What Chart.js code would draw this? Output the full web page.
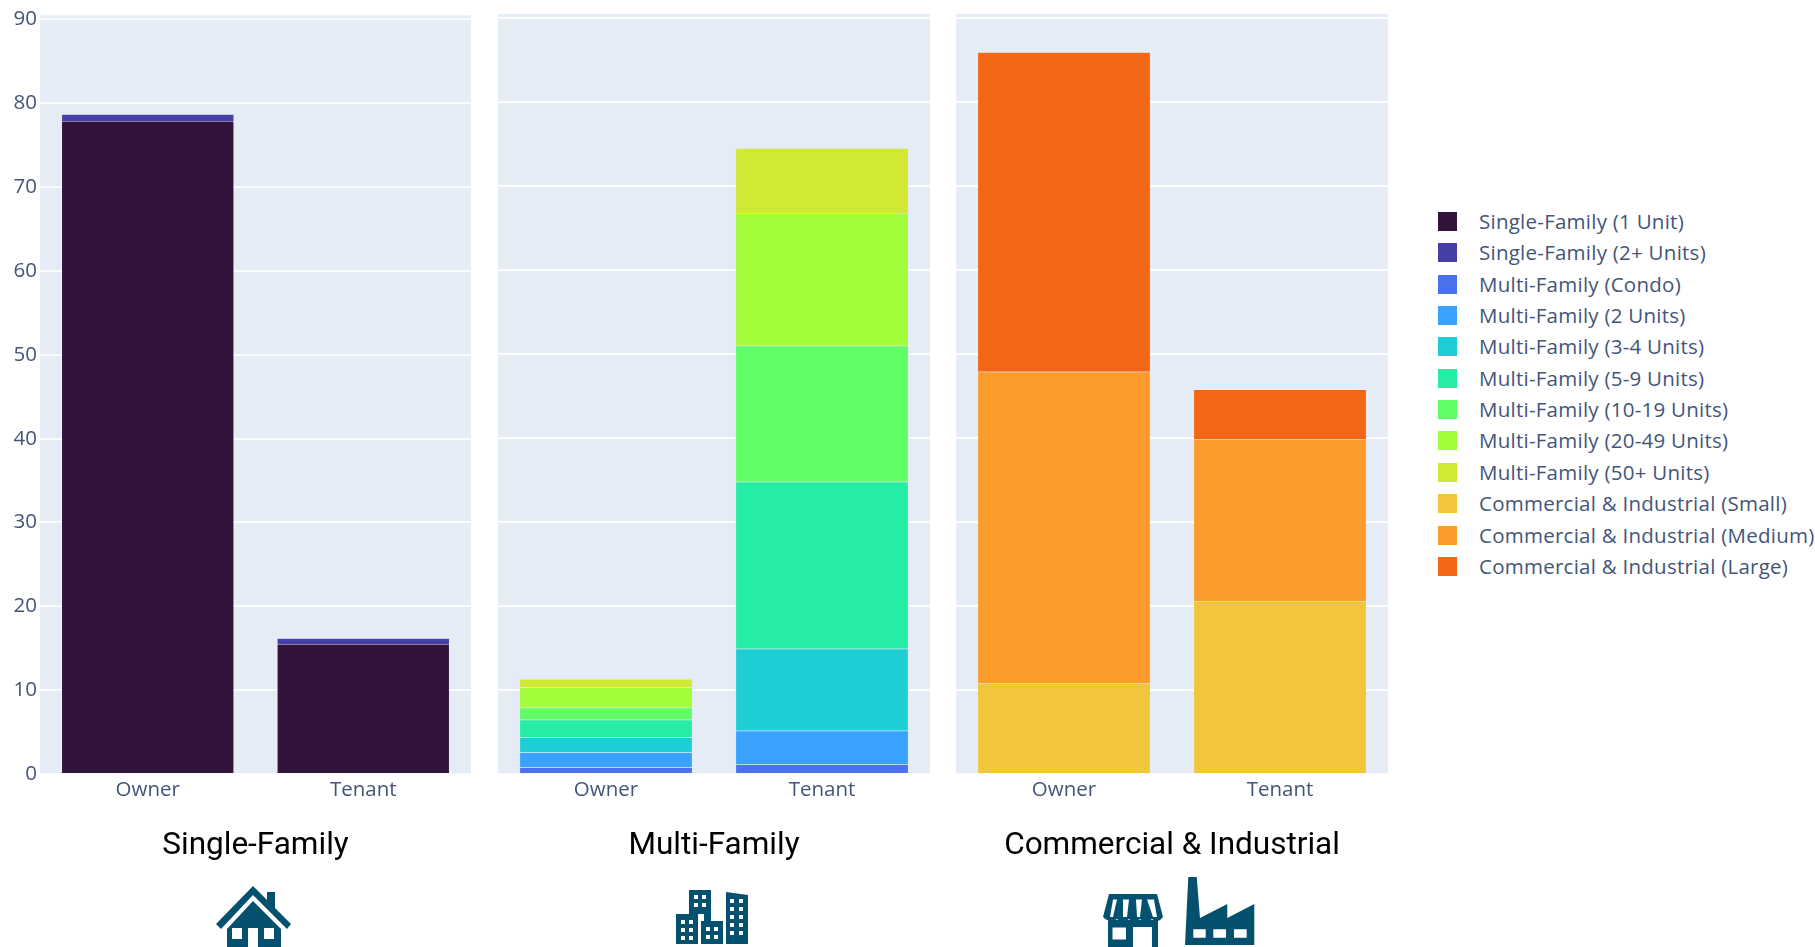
<!DOCTYPE html>
<html>
<head>
<meta charset="utf-8">
<title>Building types by owner and tenant</title>
<script src="https://cdn.jsdelivr.net/npm/chart.js@4"></script>
<style>
  html, body { margin: 0; padding: 0; background: #fff; width: 1815px; height: 947px; overflow: hidden; }
  canvas { position: absolute; top: 0; }
  #legend { position: absolute; left: 1438px; top: 206px; font-family: "Open Sans", sans-serif; font-size: 20.5px; letter-spacing: 0.25px; color: #43557a; }
  .row { position: absolute; left: 0; height: 31px; line-height: 31px; white-space: nowrap; }
  .swatch { position: absolute; left: 0; top: 6px; width: 19px; height: 19px; }
  .label { position: absolute; left: 41px; top: 0; }
  svg { position: absolute; fill: #04506f; }
</style>
</head>
<body>
<canvas id="singleChart" width="471" height="880" style="left:0"></canvas>
<canvas id="multiChart" width="432" height="880" style="left:498px"></canvas>
<canvas id="commercialChart" width="432" height="880" style="left:956px"></canvas>
<div id="legend"></div>

<!-- house -->
<svg style="left:216px;top:886px" width="76" height="61" viewBox="0 0 76 61">
  <path d="M37 0 L75 38 L71 43 L37 9 L5 43 L0 38 Z"/>
  <path d="M51 6 H59 V24 L51 16 Z"/>
  <path fill-rule="evenodd" d="M37 15 L65 43 V61 H11 V43 Z M16 42 V53 H26 V42 Z M48 42 V53 H58 V42 Z M32 42 V61 H42 V42 Z"/>
</svg>
<!-- buildings -->
<svg style="left:676px;top:890px" width="73" height="55" viewBox="0 0 73 55">
  <path fill-rule="evenodd" d="M13 0 H35 V34 H28 V24 H13 Z M18 5 V9 H22 V5 Z M26 5 V9 H30 V5 Z M18 13 V17 H22 V13 Z M26 13 V17 H30 V13 Z"/>
  <path fill-rule="evenodd" d="M0 24 H22 V54 H0 Z M5 30 V34 H9 V30 Z M13 30 V34 H17 V30 Z M5 38 V42 H9 V38 Z M13 38 V42 H17 V38 Z M5 46 V50 H9 V46 Z M13 46 V50 H17 V46 Z"/>
  <path fill-rule="evenodd" d="M25 31 H47 V54 H25 Z M30 37 V41 H34 V37 Z M38 37 V41 H42 V37 Z M30 45 V49 H34 V45 Z M38 45 V49 H42 V45 Z"/>
  <path fill-rule="evenodd" d="M50 2 L72 5 V54 H50 Z M54 9 V13 H58 V9 Z M63 9 V13 H67 V9 Z M54 17 V21 H58 V17 Z M63 17 V21 H67 V17 Z M54 25 V29 H58 V25 Z M63 25 V29 H67 V25 Z M54 33 V37 H58 V33 Z M63 33 V37 H67 V33 Z M54 41 V45 H58 V41 Z M63 41 V45 H67 V41 Z"/>
</svg>
<!-- store -->
<svg style="left:1102px;top:894px" width="62" height="53" viewBox="0 0 62 53">
  <path fill-rule="evenodd" d="M7 0 H55 L61 23 Q56 30 50 25 Q44 30 38 25 Q32 30 27 25 Q21 30 15 25 Q8 30 1 23 Z M11 5.5 H15 L11 23 H8 Z M21 5.5 H27 L25 23 H21 Z M34 5.5 H40 L38 23 H35 Z M45 5.5 H52 L55 23 H51 Z"/>
  <path fill-rule="evenodd" d="M6 26 H56 V53 H50 V33 H31 V53 H6 Z M10.5 33.5 V45.5 H24 V33.5 Z"/>
</svg>
<!-- factory -->
<svg style="left:1185px;top:877px" width="71" height="69" viewBox="0 0 71 69">
  <path fill-rule="evenodd" d="M3.3 0 H11.7 L15 41 L42.3 27 V41 L69.3 27 V68 H0 Z M8.3 52.3 V60.7 H20.7 V52.3 Z M28.3 52.3 V60.7 H41 V52.3 Z M49 52.3 V60.7 H61.7 V52.3 Z"/>
</svg>

<script>
const categories = ['Owner', 'Tenant'];
const yTicks = [0, 10, 20, 30, 40, 50, 60, 70, 80, 90];

// [Owner, Tenant]
const sf1Unit = [77.9, 15.5];
const sf2Units = [0.8, 0.7];

const mfCondo = [0.8, 1.15];
const mf2Units = [1.75, 4.0];
const mf3to4 = [1.8, 9.75];
const mf5to9 = [2.1, 19.9];
const mf10to19 = [1.45, 16.2];
const mf20to49 = [2.4, 15.8];
const mf50Plus = [1.0, 7.7];

const ciSmall = [10.85, 20.6];
const ciMedium = [37.05, 19.3];
const ciLarge = [38.05, 5.9];

const singleSeries = [
  { label: 'Single-Family (1 Unit)', data: sf1Unit, color: '#32133b' },
  { label: 'Single-Family (2+ Units)', data: sf2Units, color: '#4440a8' }
];
const multiSeries = [
  { label: 'Multi-Family (Condo)', data: mfCondo, color: '#4a72ee' },
  { label: 'Multi-Family (2 Units)', data: mf2Units, color: '#38a2fd' },
  { label: 'Multi-Family (3-4 Units)', data: mf3to4, color: '#1dcfd5' },
  { label: 'Multi-Family (5-9 Units)', data: mf5to9, color: '#25eda3' },
  { label: 'Multi-Family (10-19 Units)', data: mf10to19, color: '#61fd67' },
  { label: 'Multi-Family (20-49 Units)', data: mf20to49, color: '#a4fd3b' },
  { label: 'Multi-Family (50+ Units)', data: mf50Plus, color: '#d2e934' }
];
const commercialSeries = [
  { label: 'Commercial & Industrial (Small)', data: ciSmall, color: '#f2c63a' },
  { label: 'Commercial & Industrial (Medium)', data: ciMedium, color: '#fe9b2d' },
  { label: 'Commercial & Industrial (Large)', data: ciLarge, color: '#f36615' }
];

const tickColor = '#43557a';
const tickFont = { family: '"Open Sans", sans-serif', size: 20.5 };

// plotly-style panel background behind the grid
const panelBg = {
  id: 'panelBg',
  beforeDraw(chart) {
    const a = chart.chartArea;
    chart.ctx.fillStyle = '#e5ecf6';
    chart.ctx.fillRect(a.left, a.top, a.right - a.left, a.bottom - a.top);
  }
};

function makeChart(id, series, title, showY) {
  return new Chart(document.getElementById(id), {
    type: 'bar',
    plugins: [panelBg],
    data: {
      labels: categories,
      datasets: series.map(s => ({
        label: s.label,
        data: s.data,
        backgroundColor: s.color,
        borderColor: 'rgba(229,236,246,0.25)',
        borderWidth: 0.5,
        categoryPercentage: 1,
        barPercentage: 0.8
      }))
    },
    options: {
      responsive: false,
      animation: false,
      layout: { padding: { top: 14 } },
      plugins: {
        legend: { display: false },
        tooltip: { enabled: false },
        title: {
          display: true,
          text: title,
          position: 'bottom',
          fullSize: false,
          color: '#000',
          font: { family: 'Roboto, sans-serif', size: 31.5, weight: 'normal' },
          padding: { top: 21, bottom: 15.2 }
        }
      },
      scales: {
        x: {
          stacked: true,
          grid: { display: false, drawTicks: false },
          border: { display: false },
          ticks: { color: tickColor, font: tickFont, padding: 4 },
          afterFit(scale) { scale.height = 32; }
        },
        y: {
          stacked: true,
          min: 0,
          max: 90.5,
          grid: { color: 'rgba(255,255,255,0.8)', lineWidth: 2, drawTicks: false },
          border: { display: false },
          afterBuildTicks(scale) { scale.ticks = yTicks.map(v => ({ value: v })); },
          ticks: { display: showY, color: tickColor, font: tickFont, padding: 3 },
          afterFit(scale) { scale.width = showY ? 40 : 0; }
        }
      }
    }
  });
}

makeChart('singleChart', singleSeries, 'Single-Family', true);
makeChart('multiChart', multiSeries, 'Multi-Family', false);
makeChart('commercialChart', commercialSeries, 'Commercial & Industrial', false);

// legend, same order as the series
const legendBox = document.getElementById('legend');
singleSeries.concat(multiSeries, commercialSeries).forEach((s, i) => {
  const row = document.createElement('div');
  row.className = 'row';
  row.style.top = (i * 31.35) + 'px';
  const sw = document.createElement('span');
  sw.className = 'swatch';
  sw.style.background = s.color;
  const txt = document.createElement('span');
  txt.className = 'label';
  txt.textContent = s.label;
  row.appendChild(sw);
  row.appendChild(txt);
  legendBox.appendChild(row);
});
</script>
</body>
</html>
